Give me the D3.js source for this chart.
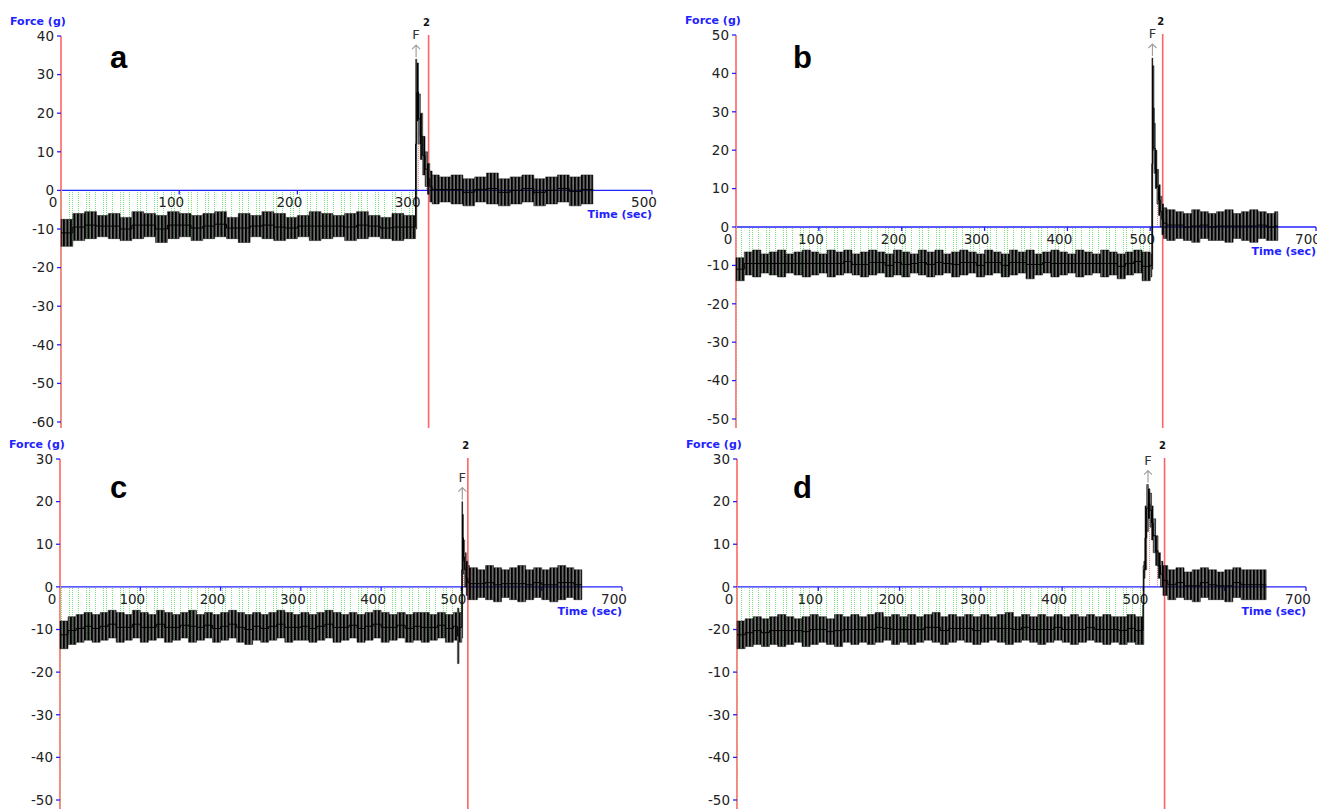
<!DOCTYPE html>
<html lang="en">
<head>
<meta charset="UTF-8">
<title>Force traces a-d</title>
<script src="https://cdn.jsdelivr.net/npm/d3@7"></script>
<style>
  body { margin: 0; background: #fff; }
  svg { display: block; }
  text { font-family: "DejaVu Sans", Verdana, sans-serif; }
</style>
</head>
<body>
<svg width="1317" height="809"></svg>
<script>
// ---- data (time in sec, force in g: upper / lower edge of the oscillation) ----
var aTime = [0,10,20,30,40,50,60,70,80,90,100,110,120,130,140,150,160,170,180,190,200,210,220,230,240,250,260,270,280,290,
  300,301,302.5,304,306,308,310,312,314,
  320,330,340,350,360,370,380,390,400,410,420,430,440,450];
var aHigh = [-7.5,-6,-5.5,-6.5,-6,-7,-5.5,-6,-6.5,-5.5,-6,-6.5,-6,-5.5,-7,-6,-6.5,-5.5,-6,-7,-6.5,-5.5,-6,-6.5,-6,-5.5,-6.5,-7,-6,-6.5,
  34,33,25,20,14,10,7,5,4,
  3.5,4,3,3.5,4.5,3,3.5,4,3,3.5,4,3.5,4,3.5];
var aLow = [-14.5,-13,-12.5,-12,-12.5,-13,-12.5,-12,-13.5,-12.5,-12,-13,-12.5,-12,-12.5,-13.5,-12,-12.5,-13,-12.5,-12,-13,-12.5,-12,-13,-12.5,-12,-12.5,-13,-12.5,
  -10,18,12,8,4,1,-1,-3,-3.5,
  -3,-3.5,-4,-3,-3.5,-4,-3.5,-3,-4,-3.5,-3,-4,-3.5,-3.5];

var bTime = [0,10,20,30,40,50,60,70,80,90,100,110,120,130,140,150,160,170,180,190,200,210,220,230,240,250,260,270,280,290,
  300,310,320,330,340,350,360,370,380,390,400,410,420,430,440,450,460,470,480,490,500,
  502,503,504.5,506,508,510,512,514,516,
  520,530,540,550,560,570,580,590,600,610,620,630,640,650,654];
var bHigh = [-8,-6.5,-6,-7,-6.5,-6,-7,-6.5,-6,-6.5,-7,-6,-6.5,-6,-7,-6.5,-6,-6.5,-7,-6,-6.5,-7,-6,-6.5,-6,-7,-6.5,-6,-6.5,-7,
  -6,-6.5,-7,-6,-6.5,-6,-7,-6.5,-6,-6.5,-7,-6,-6.5,-7,-6,-6.5,-7,-6.5,-6,-6.5,-7,
  44,42,27,20,15,11,8,6,5,
  4.5,4,3.5,4.5,4,3.5,4,4.5,3.5,4,4.5,4,3.5,4,4];
var bLow = [-14,-12.5,-13,-12,-12.5,-13,-12,-12.5,-13,-12.5,-12,-13,-12.5,-12,-12.5,-13,-12.5,-12,-13,-12.5,-13,-12,-12.5,-13,-12.5,-12,-13,-12.5,-12,-13,
  -12.5,-12,-13,-12.5,-12,-13.5,-12.5,-12,-13,-12.5,-12,-13,-12.5,-12,-13,-12.5,-13.5,-12.5,-12,-14,-13,
  -11,20,14,10,6,3,0,-2,-3,
  -3.5,-3,-3.5,-4,-3,-3.5,-3.5,-4,-3,-3.5,-4,-3,-3.5,-3.5,-3.5];

var cTime = [0,10,20,30,40,50,60,70,80,90,100,110,120,130,140,150,160,170,180,190,200,210,220,230,240,250,260,270,280,290,
  300,310,320,330,340,350,360,370,380,390,400,410,420,430,440,450,460,470,480,490,
  495,497,500.5,501.5,502.5,504,506,508,
  510,520,530,540,550,560,570,580,590,600,610,620,630,640,650];
var cHigh = [-8,-7,-6.5,-6,-6.5,-6,-5.5,-6,-6.5,-5.5,-6,-6.5,-5.5,-6,-6.5,-6,-5.5,-6.5,-6,-6.5,-6,-5.5,-6,-6.5,-6,-6.5,-6,-5.5,-6,-6.5,
  -6,-6.5,-6,-5.5,-6,-6.5,-6,-6.5,-6,-5.5,-6,-6.5,-6,-6.5,-6,-6,-6.5,-6,-6.5,-6,
  -5,-6,20,17,11,8,6,5,
  4.5,4,5,4.5,4,4.5,5,4,4.5,4,4.5,5,4.5,4,4];
var cLow = [-14.5,-13.5,-13,-12.5,-13,-12.5,-12,-13,-12.5,-12,-13,-12.5,-12,-13,-12.5,-12,-13,-12.5,-12,-13,-12.5,-12,-13,-13.5,-12.5,-13,-12.5,-12,-13,-12.5,
  -12.5,-13,-12.5,-12,-13,-12.5,-12,-13,-12.5,-12,-13,-12.5,-12,-13,-12.5,-13,-12.5,-12,-13,-12.5,
  -18,-13,-12,6,3,0,-2,-3,
  -3,-2.5,-3,-3.5,-2.5,-3,-3.5,-3,-2.5,-3,-3.5,-3,-2.5,-3,-3];

var dTime = [0,10,20,30,40,50,60,70,80,90,100,110,120,130,140,150,160,170,180,190,200,210,220,230,240,250,260,270,280,290,
  300,310,320,330,340,350,360,370,380,390,400,410,420,430,440,450,460,470,480,490,
  499.5,500.5,502,504,506,508,510,512,515,518,521,524,
  530,540,550,560,570,580,590,600,610,620,630,640,651];
var dHigh = [-8,-7.5,-7,-7.5,-7,-6.5,-7,-7.5,-7,-6.5,-7,-7.5,-6.5,-7,-6.5,-7,-6.5,-6,-7,-6.5,-7,-6.5,-7,-6.5,-6,-7,-6.5,-7,-6.5,-7,
  -6.5,-7,-6.5,-6,-7,-6.5,-7,-6.5,-7,-6.5,-7,-6.5,-7,-6.5,-7,-6.5,-7,-7,-6.5,-7,
  5,6,19,24,23,22,19,16,12,8,6,5,
  4,4.5,3.5,4,4.5,4,3.5,4,4.5,4,4,4,4];
var dLow = [-14.5,-14,-13.5,-14,-13.5,-14,-13.5,-13,-14,-13.5,-13,-13.5,-14,-13,-13.5,-13,-13.5,-13,-12.5,-13.5,-13,-13.5,-13,-12.5,-13,-13.5,-13,-12.5,-13,-13.5,
  -13,-12.5,-13,-13.5,-13,-12.5,-13,-13.5,-13,-12.5,-13,-13.5,-13,-12.5,-13,-13.5,-13,-13.5,-13,-13.5,
  -13.5,2,4,13,16,14,11,8,5,2,0,-2,
  -3,-2.5,-3,-3.5,-2.5,-3,-3,-3.5,-2.5,-3,-3,-3,-3];

// event markers: F (force applied) and marker 2, in sec; peak value under the F arrow
var fTimes = [300, 502, 500.5, 505];
var markTimes = [311, 515, 508, 526];
var peaks = [34, 44, 20, 24];
var letters = ["a", "b", "c", "d"];

// axis ticks and their labels
var aYTicks = [40,30,20,10,0,-10,-20,-30,-40,-50,-60];
var bYTicks = [50,40,30,20,10,0,-10,-20,-30,-40,-50];
var cYTicks = [30,20,10,0,-10,-20,-30,-40,-50];
var dYTicks = [30,20,10,0,-10,-20,-30,-40,-50];
var dYLabels = ["30","20","10","0","-20","-10","-30","-40","-50"];
var aXTicks = [100,200,300,400,500];
var bXTicks = [100,200,300,400,500,600,700];
var aXLabels = [0,100,200,300,500];
var bXLabels = [0,100,200,300,400,500,700];
var cXLabels = [0,100,200,300,400,500,700];
var dXLabels = [0,100,200,300,400,500,700];

var panels = [
  {time:aTime, high:aHigh, low:aLow, xMax:500, x0:61, x1:652, yMin:-60, yMax:40, yTop:36, yBot:422, end:428,
   yTicks:aYTicks, yLabels:null, xTicks:aXTicks, xLabels:aXLabels, lx:110, ly:68},
  {time:bTime, high:bHigh, low:bLow, xMax:700, x0:736, x1:1316, yMin:-50, yMax:50, yTop:35, yBot:419, end:428,
   yTicks:bYTicks, yLabels:null, xTicks:bXTicks, xLabels:bXLabels, lx:793, ly:68},
  {time:cTime, high:cHigh, low:cLow, xMax:700, x0:60, x1:622, yMin:-50, yMax:30, yTop:459, yBot:800, end:809,
   yTicks:cYTicks, yLabels:null, xTicks:bXTicks, xLabels:cXLabels, lx:110, ly:498},
  {time:dTime, high:dHigh, low:dLow, xMax:700, x0:737, x1:1306, yMin:-50, yMax:30, yTop:459, yBot:800, end:809,
   yTicks:dYTicks, yLabels:dYLabels, xTicks:bXTicks, xLabels:dXLabels, lx:793, ly:498}
];

var svg = d3.select("svg");
var defs = svg.append("defs");
var blue = "#2222ff", red = "#ff6464";

// dotted fill patterns (green before F, red between F and marker 2)
function dotPattern(id, color) {
  var p = defs.append("pattern").attr("id", id).attr("patternUnits", "userSpaceOnUse")
    .attr("width", 17).attr("height", 4);
  [1, 4, 10].forEach(function(x) {
    p.append("line").attr("x1", x + 0.5).attr("x2", x + 0.5).attr("y1", 0).attr("y2", 4)
      .attr("stroke", color).attr("stroke-width", 1).attr("stroke-dasharray", "1,1");
  });
}
dotPattern("greenDots", "#7ddf7d");
dotPattern("redDots", "#ff8a8a");

// vertical bars for the oscillating trace
var bars = defs.append("pattern").attr("id", "bars").attr("patternUnits", "userSpaceOnUse")
  .attr("width", 3.5).attr("height", 10);
bars.append("rect").attr("width", 2.2).attr("height", 10).attr("fill", "#000");
bars.append("rect").attr("x", 2.2).attr("width", 1.3).attr("height", 10).attr("fill", "rgba(20,20,20,0.6)");

panels.forEach(function(p, i) {
  var x = d3.scaleLinear().domain([0, p.xMax]).range([p.x0, p.x1]);
  var y = d3.scaleLinear().domain([p.yMin, p.yMax]).range([p.yBot, p.yTop]);
  var pts = p.time.map(function(t, k) { return {t: t, hi: p.high[k], lo: p.low[k]}; });
  var g = svg.append("g");
  var f = fTimes[i], m = markTimes[i];

  // clip regions for the dotted fills
  defs.append("clipPath").attr("id", "clipG" + i).append("rect")
    .attr("x", x(0)).attr("y", 0).attr("width", x(f) - x(0)).attr("height", 809);
  defs.append("clipPath").attr("id", "clipR" + i).append("rect")
    .attr("x", x(f)).attr("y", 0).attr("width", x(m) - x(f)).attr("height", 809);

  var fill = d3.area().curve(d3.curveStepAfter)
    .x(function(d) { return x(d.t); }).y0(y(0)).y1(function(d) { return y(d.lo); });
  g.append("path").datum(pts).attr("d", fill).attr("fill", "url(#greenDots)").attr("clip-path", "url(#clipG" + i + ")");
  g.append("path").datum(pts).attr("d", fill).attr("fill", "url(#redDots)").attr("clip-path", "url(#clipR" + i + ")");

  // x axis along zero
  g.append("line").attr("x1", x(0)).attr("x2", x(p.xMax)).attr("y1", y(0)).attr("y2", y(0))
    .attr("stroke", blue).attr("stroke-width", 1.3);
  g.selectAll(".xt").data(p.xTicks).enter().append("line")
    .attr("x1", function(d) { return x(d); }).attr("x2", function(d) { return x(d); })
    .attr("y1", y(0)).attr("y2", y(0) + 4).attr("stroke", blue).attr("stroke-width", 1.3);
  g.selectAll(".xl").data(p.xLabels).enter().append("text")
    .attr("x", function(d) { return x(d) - 8; }).attr("y", y(0) + 17)
    .attr("text-anchor", "middle").attr("font-size", 13.5).attr("fill", "#222")
    .text(function(d) { return d; });
  g.append("text").attr("x", x(p.xMax)).attr("y", y(0) + 28).attr("text-anchor", "end")
    .attr("font-size", 11).attr("font-weight", "bold").attr("fill", blue).text("Time (sec)");

  // y axis
  g.append("line").attr("x1", x(0)).attr("x2", x(0)).attr("y1", p.yTop).attr("y2", p.end)
    .attr("stroke", red).attr("stroke-width", 1.6);
  g.append("line").attr("x1", x(0) + 0.5).attr("x2", x(0) + 0.5).attr("y1", y(0)).attr("y2", p.end)
    .attr("stroke", "#8be08b").attr("stroke-width", 0.8).attr("stroke-dasharray", "1,2");
  g.selectAll(".yt").data(p.yTicks).enter().append("line")
    .attr("x1", x(0) - 4).attr("x2", x(0)).attr("y1", function(d) { return y(d); }).attr("y2", function(d) { return y(d); })
    .attr("stroke", blue).attr("stroke-width", 1.3);
  g.selectAll(".yl").data(p.yTicks).enter().append("text")
    .attr("x", x(0) - 7).attr("y", function(d) { return y(d); }).attr("dy", "0.36em")
    .attr("text-anchor", "end").attr("font-size", 13.5).attr("fill", "#222")
    .text(function(d, k) { return p.yLabels ? p.yLabels[k] : d; });
  g.append("text").attr("x", x(0) - 51).attr("y", p.yTop - 11)
    .attr("font-size", 11).attr("font-weight", "bold").attr("fill", blue).text("Force (g)");

  // marker 2
  g.append("line").attr("x1", x(m)).attr("x2", x(m)).attr("y1", p.yTop - 1).attr("y2", p.end)
    .attr("stroke", red).attr("stroke-width", 1.6);
  g.append("text").attr("x", x(m) - 2).attr("y", p.yTop - 10).attr("text-anchor", "middle")
    .attr("font-size", 10).attr("font-weight", "bold").attr("fill", "#111").text("2");

  // trace band and its mid line
  var band = d3.area().curve(d3.curveStepAfter)
    .x(function(d) { return x(d.t); }).y0(function(d) { return y(d.lo); }).y1(function(d) { return y(d.hi); });
  g.append("path").datum(pts).attr("d", band).attr("fill", "url(#bars)")
    .attr("stroke", "#111").attr("stroke-width", 0.5);
  var mid = d3.line().curve(d3.curveStepAfter)
    .x(function(d) { return x(d.t); }).y(function(d) { return y((d.hi + d.lo) / 2); });
  g.append("path").datum(pts).attr("d", mid).attr("fill", "none").attr("stroke", "#000").attr("stroke-width", 1);

  // F arrow above the peak
  var tail = y(peaks[i]) - 2, head = tail - 12, fx = x(f) + 0.5;
  g.append("path").attr("d", "M" + fx + "," + tail + "V" + head + "M" + (fx - 4) + "," + (head + 4) + "L" + fx + "," + head + "L" + (fx + 4) + "," + (head + 4))
    .attr("fill", "none").attr("stroke", "#a0a0a0").attr("stroke-width", 1.2);
  g.append("text").attr("x", fx).attr("y", head - 6).attr("text-anchor", "middle")
    .attr("font-size", 13).attr("fill", "#333").text("F");

  // panel letter
  g.append("text").attr("x", p.lx).attr("y", p.ly)
    .style("font-family", "'Liberation Sans', Arial, sans-serif")
    .attr("font-size", 31).attr("font-weight", "bold").attr("fill", "#000").text(letters[i]);
});
</script>
</body>
</html>
